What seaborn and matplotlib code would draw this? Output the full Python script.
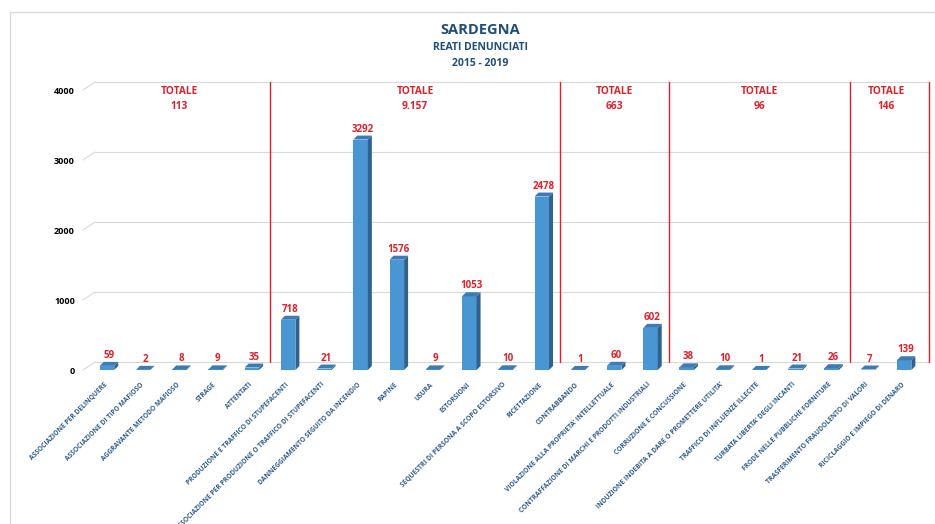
import matplotlib
matplotlib.use('Agg')
import matplotlib.pyplot as plt
import matplotlib.transforms as mtransforms
from matplotlib.patches import Polygon, Rectangle
import pandas as pd
import seaborn as sns

# Data #

categories = ["ASSOCIAZIONE PER DELINQUERE", "ASSOCIAZIONE DI TIPO MAFIOSO", "AGGRAVANTE METODO MAFIOSO",
              "STRAGE", "ATTENTATI", "PRODUZIONE E TRAFFICO DI STUPEFACENTI",
              "ASSOCIAZIONE PER PRODUZIONE O TRAFFICO DI STUPEFACENTI", "DANNEGGIAMENTO SEGUITO DA INCENDIO",
              "RAPINE", "USURA", "ESTORSIONI", "SEQUESTRI DI PERSONA A SCOPO ESTORSIVO", "RICETTAZIONE",
              "CONTRABBANDO", "VIOLAZIONE ALLA PROPRIETA' INTELLETTUALE",
              "CONTRAFFAZIONE DI MARCHI E PRODOTTI INDUSTRIALI", "CORRUZIONE E CONCUSSIONE",
              "INDUZIONE INDEBITA A DARE O PROMETTERE UTILITA'", "TRAFFICO DI INFLUENZE ILLECITE",
              "TURBATA LIBERTA' DEGLI INCANTI", "FRODE NELLE PUBBLICHE FORNITURE",
              "TRASFERIMENTO FRAUDOLENTO DI VALORI", "RICICLAGGIO E IMPIEGO DI DENARO"]

values = [59, 2, 8, 9, 35, 718, 21, 3292, 1576, 9, 1053, 10, 2478, 1, 60, 602, 38, 10, 1, 21, 26, 7, 139]

group_sizes = [5, 8, 3, 5, 2]
group_totals = ["113", "9.157", "663", "96", "146"]

y_ticks = [0, 1000, 2000, 3000, 4000]

# Style #

W, H = 935, 524
blue_front = '#4A96D2'
blue_side = '#2F6291'
blue_top = '#3C7BB6'
red = '#E0202A'
navy = '#1F4E79'
grid_col = '#D9D9D9'

sns.set_style('white')
plt.rcParams['font.family'] = ['Open Sans', 'DejaVu Sans']

fig = plt.figure(figsize=(W / 100, H / 100), dpi=100)
ax = fig.add_axes([83 / W, 1 - 370 / H, (932 - 83) / W, (370 - 90) / H])

df = pd.DataFrame({'reato': categories, 'n': values})
sns.barplot(data=df, x='reato', y='n', color=blue_front, width=0.4, saturation=1, ax=ax,
            linewidth=0, edgecolor='none', zorder=3)
bars = list(ax.patches)

xl = (-0.662, 22.77)
ax.set_xlim(xl)
ax.set_ylim(0, 4000)
ppx = (932 - 83) / (xl[1] - xl[0])
ppy = (370 - 90) / 4000

# 3D look: side and top faces of each bar
ddx, ddy = 4 / ppx, 4 / ppy
for p in bars:
    x0, w, h = p.get_x(), p.get_width(), p.get_height()
    x1 = x0 + w
    ax.add_patch(Polygon([(x1, 0), (x1 + ddx, ddy), (x1 + ddx, h + ddy), (x1, h)],
                         closed=True, fc=blue_side, ec='none', zorder=3))
    ax.add_patch(Polygon([(x0, h), (x0 + ddx, h + ddy), (x1 + ddx, h + ddy), (x1, h)],
                         closed=True, fc=blue_top, ec='none', zorder=3))

# value labels
for p, v in zip(bars, values):
    ax.annotate(str(v), (p.get_x() + p.get_width() / 2 + ddx / 2, p.get_height() + ddy),
                xytext=(0, 1), textcoords='offset pixels', ha='center', va='bottom',
                color=red, fontweight='bold', fontsize=7, zorder=5)

# back wall gridlines
bx, by = 12 / ppx, 8 / ppy
seps = []
start = 0
for s in group_sizes:
    start += s
    seps.append(start - 0.5)
seps[-1] = seps[-1] + 0.2
for v in y_ticks:
    ax.plot([xl[0], xl[0] + bx], [v, v + by], color=grid_col, lw=0.8, clip_on=False, zorder=1)
    ax.plot([xl[0] + bx, seps[-1]], [v + by, v + by], color=grid_col, lw=0.8, clip_on=False, zorder=1)

# group separators and totals
blend = mtransforms.blended_transform_factory(ax.transData, fig.transFigure)
start = 0
for s, sep, tot in zip(group_sizes, seps, group_totals):
    ax.plot([sep, sep], [by, 4000 + by], color=red, lw=1, clip_on=False, zorder=2)
    cx = start + (s - 1) / 2
    ax.text(cx, 1 - 92 / H, "TOTALE", transform=blend, ha='center', va='center',
            color=red, fontweight='bold', fontsize=7.3)
    ax.text(cx, 1 - 106 / H, tot, transform=blend, ha='center', va='center',
            color=red, fontweight='bold', fontsize=7.3)
    start += s

# axes cosmetics
for sp in ax.spines.values():
    sp.set_visible(False)
ax.set_xlabel('')
ax.set_ylabel('')
ax.set_yticks(y_ticks)
ax.set_yticklabels([str(t) for t in y_ticks], fontsize=6.5, fontweight='bold', color='black')
ax.tick_params(axis='y', length=0, pad=5.8)
ax.set_xticks(range(len(categories)))
ax.set_xticklabels(categories, rotation=45, ha='right', va='top', rotation_mode='anchor',
                   fontsize=4.8, fontweight='bold', color='#2E5C8A')
ax.tick_params(axis='x', length=0, pad=8)
shift = mtransforms.ScaledTranslation(-3 / 100, 0, fig.dpi_scale_trans)
for lbl in ax.get_xticklabels():
    lbl.set_transform(lbl.get_transform() + shift)

# titles
fig.text(480 / W, 1 - 30 / H, "SARDEGNA", ha='center', va='center', color=navy,
         fontweight='bold', fontsize=10.5)
fig.text(480 / W, 1 - 47.5 / H, "REATI DENUNCIATI", ha='center', va='center', color=navy,
         fontweight='bold', fontsize=7.5)
fig.text(480 / W, 1 - 63 / H, "2015 - 2019", ha='center', va='center', color=navy,
         fontweight='bold', fontsize=7.5)

# chart border
fig.patches.append(Rectangle((10 / W, -0.1), 1.0, 1 - 12 / H + 0.1, transform=fig.transFigure,
                             fill=False, ec=grid_col, lw=1))

fig.savefig('out.png', dpi=100)
